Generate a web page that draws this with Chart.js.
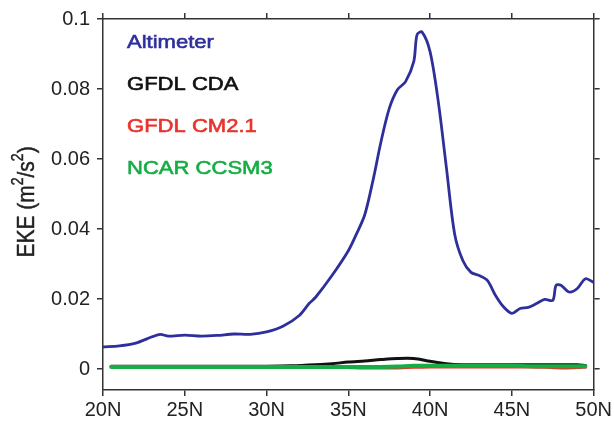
<!DOCTYPE html>
<html>
<head>
<meta charset="utf-8">
<script src="https://cdn.jsdelivr.net/npm/chart.js@4"></script>
<style>
    html, body { margin: 0; padding: 0; background: #fff; }
    #wrap { width: 614px; height: 425px; position: relative; }
</style>
</head>
<body>
<div id="wrap"><canvas id="ekeChart"></canvas></div>
<script>
// latitude (deg N) and EKE (m^2/s^2)
const altLat = [20, 21, 22, 23, 23.5, 24, 25, 26, 27, 28, 29, 30, 31, 32, 32.6, 33, 34, 35, 35.5, 36,
    36.5, 37, 37.5, 38, 38.5, 39, 39.2, 39.5, 40, 40.5, 41, 41.5, 42, 42.5, 43, 43.5, 44, 44.5, 45, 45.5,
    46, 46.5, 47, 47.5, 47.7, 48, 48.5, 49, 49.5, 50];
const altimeter = [0.0063, 0.0066, 0.0074, 0.0092, 0.0099, 0.0094, 0.0097, 0.0094, 0.0096, 0.0100,
    0.0099, 0.0106, 0.0122, 0.0153, 0.0187, 0.0205, 0.0267, 0.0338, 0.0386, 0.0440,
    0.0537, 0.0650, 0.0744, 0.0798, 0.0821, 0.0878, 0.0955, 0.0963, 0.0906, 0.0764,
    0.0574, 0.0386, 0.0310, 0.0276, 0.0267, 0.0253, 0.0210, 0.0177, 0.0159, 0.0173,
    0.0176, 0.0187, 0.0199, 0.0196, 0.0239, 0.0239, 0.0220, 0.0230, 0.0258, 0.0247];

const modelLat = [20.5, 22, 24, 26, 28, 30, 31.5, 33, 34, 35, 36, 37, 38, 39, 40, 41, 42, 43, 44, 45, 46, 47, 48, 49, 49.5];
const gfdlCda = [0.0008, 0.0008, 0.0008, 0.0008, 0.0008, 0.0008, 0.0009, 0.0012, 0.0015, 0.0020, 0.0023, 0.0027, 0.0030,
    0.0030, 0.0022, 0.0015, 0.0012, 0.0012, 0.0012, 0.0012, 0.0012, 0.0012, 0.0012, 0.0012, 0.0010];
const gfdlCm21 = [0.0007, 0.0007, 0.0007, 0.0007, 0.0006, 0.0006, 0.0005, 0.0005, 0.0005, 0.0004, 0.0003, 0.0003, 0.0003,
    0.0005, 0.0006, 0.0006, 0.0006, 0.0006, 0.0006, 0.0006, 0.0006, 0.0005, 0.0003, 0.0004, 0.0005];
const ncarCcsm3 = [0.0006, 0.0006, 0.0006, 0.0006, 0.0006, 0.0006, 0.0006, 0.0006, 0.0006, 0.0006, 0.0006, 0.0006, 0.0007,
    0.0009, 0.0009, 0.0009, 0.0009, 0.0009, 0.0009, 0.0009, 0.0008, 0.0008, 0.0008, 0.0008, 0.0008];

const xTicks = [20, 25, 30, 35, 40, 45, 50];
const yTicks = [0, 0.02, 0.04, 0.06, 0.08, 0.1];
const seriesNames = ['Altimeter', 'GFDL CDA', 'GFDL CM2.1', 'NCAR CCSM3'];
const seriesColors = ['#2f2f9c', '#111111', '#e8342c', '#16ad45'];

const pts = (xs, ys) => xs.map((x, i) => ({ x: x, y: ys[i] }));
const axisColor = '#333';
const fontFamily = '"Liberation Sans", Arial, sans-serif';
const tickFont = { family: fontFamily, size: 20 };

// legend words inside the plot and the y title with real superscripts
const textLayer = {
    id: 'textLayer',
    afterDatasetsDraw(chart) {
        const { ctx, chartArea } = chart;
        ctx.save();
        ctx.font = '19px ' + fontFamily;
        ctx.textBaseline = 'middle';
        ctx.lineWidth = 0.6;
        seriesNames.forEach((name, i) => {
            ctx.save();
            ctx.translate(chartArea.left + 24, chartArea.top + 24 + i * 42);
            ctx.scale(1.16, 1);
            ctx.fillStyle = seriesColors[i];
            ctx.strokeStyle = seriesColors[i];
            ctx.fillText(name, 0, 0);
            ctx.strokeText(name, 0, 0);
            ctx.restore();
        });

        // y axis title: EKE (m^2/s^2)
        const parts = [['EKE (m', false], ['2', true], ['/s', false], ['2', true], [')', false]];
        const big = '21px ' + fontFamily, small = '14px ' + fontFamily;
        let total = 0;
        parts.forEach(p => { ctx.font = p[1] ? small : big; total += ctx.measureText(p[0]).width; });
        ctx.translate(34, 202);
        ctx.rotate(-Math.PI / 2);
        ctx.scale(1, 1.12);
        ctx.fillStyle = '#222';
        ctx.strokeStyle = '#222';
        ctx.lineWidth = 0.4;
        ctx.textBaseline = 'alphabetic';
        let cx = -total / 2;
        parts.forEach(p => {
            ctx.font = p[1] ? small : big;
            ctx.fillText(p[0], cx, p[1] ? -10 : 0);
            ctx.strokeText(p[0], cx, p[1] ? -10 : 0);
            cx += ctx.measureText(p[0]).width;
        });
        ctx.restore();
    }
};

const sideAxis = (pos, ticksArr) => ({
    type: 'linear',
    position: pos,
    min: pos === 'top' ? 20 : -0.006,
    max: pos === 'top' ? 50 : 0.1,
    afterBuildTicks: (axis) => { axis.ticks = ticksArr.map(v => ({ value: v })); },
    ticks: { display: false },
    grid: { drawOnChartArea: false, drawTicks: true, tickLength: 6, color: axisColor, lineWidth: 1.5 },
    border: { display: true, color: axisColor, width: 1.5 }
});

new Chart(document.getElementById('ekeChart'), {
    type: 'line',
    data: {
        datasets: [
            { label: seriesNames[0], data: pts(altLat, altimeter), borderColor: seriesColors[0], borderWidth: 2.8, order: 0 },
            { label: seriesNames[1], data: pts(modelLat, gfdlCda), borderColor: seriesColors[1], borderWidth: 3, order: 3 },
            { label: seriesNames[2], data: pts(modelLat, gfdlCm21), borderColor: seriesColors[2], borderWidth: 3, order: 2 },
            { label: seriesNames[3], data: pts(modelLat, ncarCcsm3), borderColor: seriesColors[3], borderWidth: 4, order: 1 }
        ]
    },
    options: {
        responsive: true,
        maintainAspectRatio: false,
        animation: false,
        layout: { padding: 0 },
        elements: { point: { radius: 0 }, line: { tension: 0.3, borderJoinStyle: 'round', borderCapStyle: 'round' } },
        plugins: { legend: { display: false }, tooltip: { enabled: false } },
        scales: {
            x: {
                type: 'linear',
                min: 20,
                max: 50,
                afterBuildTicks: (axis) => { axis.ticks = xTicks.map(v => ({ value: v })); },
                afterFit: (axis) => { axis.height = 35; },
                ticks: { color: '#222', font: tickFont, padding: 2, maxRotation: 0, callback: v => v + 'N' },
                grid: { drawOnChartArea: false, drawTicks: true, tickLength: 6, color: axisColor, lineWidth: 1.5 },
                border: { display: true, color: axisColor, width: 1.5 }
            },
            x2: Object.assign(sideAxis('top', xTicks), { afterFit: (axis) => { axis.height = 16; } }),
            y: {
                type: 'linear',
                min: -0.006,
                max: 0.1,
                afterBuildTicks: (axis) => { axis.ticks = yTicks.map(v => ({ value: v })); },
                afterFit: (axis) => { axis.width = 103; },
                ticks: { color: '#222', font: tickFont, padding: 7, callback: v => v === 0 ? '0' : String(+v.toFixed(2)) },
                grid: { drawOnChartArea: false, drawTicks: true, tickLength: 6, color: axisColor, lineWidth: 1.5 },
                border: { display: true, color: axisColor, width: 1.5 }
            },
            y2: Object.assign(sideAxis('right', yTicks), { afterFit: (axis) => { axis.width = 20; } })
        }
    },
    plugins: [textLayer]
});
</script>
</body>
</html>
